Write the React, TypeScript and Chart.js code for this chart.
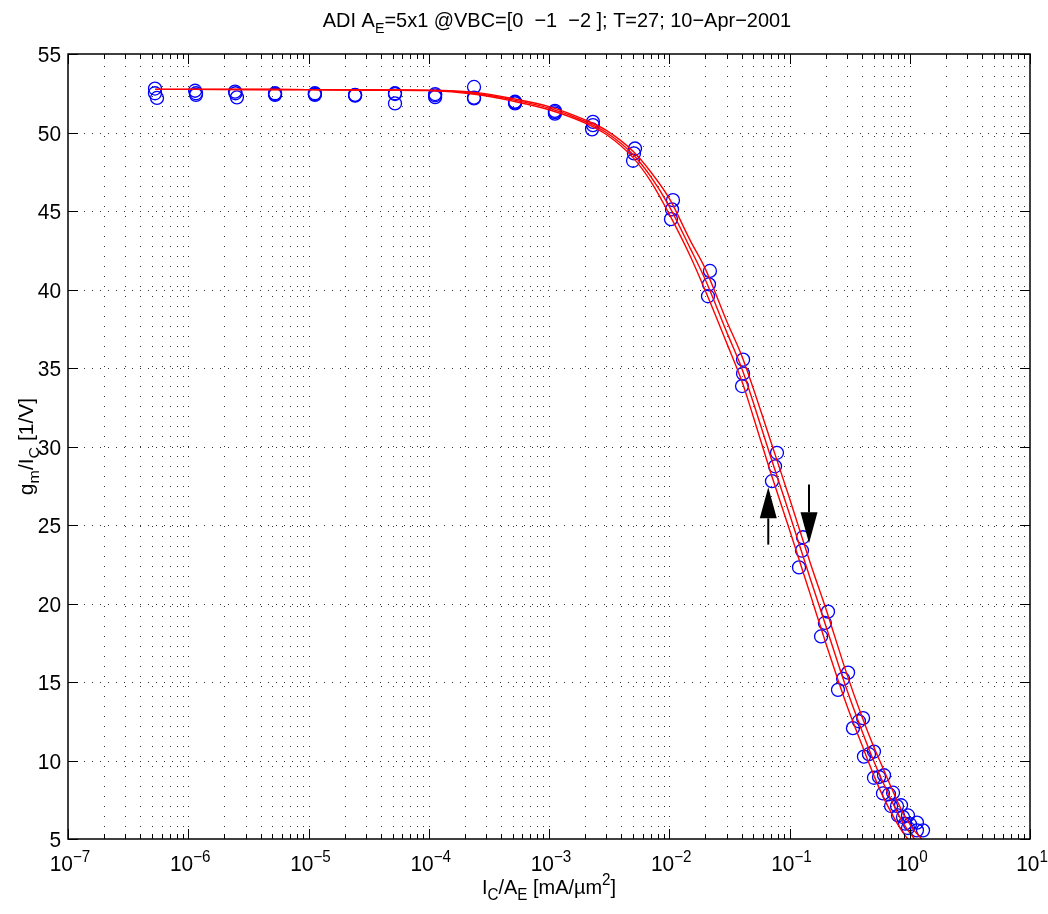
import React, { useEffect, useRef } from 'react';
import { Chart, registerables } from 'chart.js';

Chart.register(...registerables);

// ---- model curves (three VBC values) ----
const curveX = [5.3e-7, 1e-6, 1e-5, 1e-4, 2.5e-4, 5e-4, 1e-3, 2e-3, 3e-3, 5e-3, 7e-3, 1e-2, 1.5e-2, 2e-2, 3e-2, 4e-2, 5e-2, 7e-2, 0.1, 0.15, 0.2, 0.3, 0.4, 0.5, 0.6, 0.7, 0.8, 0.9, 1.0, 1.1, 1.26];
const curveL = [52.75, 52.75, 52.73, 52.67, 52.42, 52.0, 51.45, 50.6, 49.87, 48.4, 46.9, 44.8, 42.1, 39.9, 36.6, 34.2, 31.9, 28.3, 24.7, 20.5, 17.5, 13.5, 11.0, 9.1, 7.7, 6.7, 5.9, 5.3, 4.85, null, null];
const curveM = [52.75, 52.75, 52.73, 52.68, 52.48, 52.08, 51.55, 50.7, 50.0, 48.6, 47.2, 45.3, 42.6, 40.6, 37.3, 35.0, 32.8, 29.3, 25.7, 21.5, 18.6, 14.5, 11.9, 10.0, 8.6, 7.5, 6.6, 5.9, 5.4, 5.0, null];
const curveR = [52.75, 52.75, 52.73, 52.69, 52.54, 52.16, 51.65, 50.8, 50.13, 48.8, 47.5, 45.8, 43.1, 41.3, 38.0, 35.8, 33.7, 30.3, 26.7, 22.5, 19.7, 15.5, 12.8, 10.9, 9.5, 8.3, 7.3, 6.5, 5.95, 5.5, 5.0];

// ---- measured points ----
const measRx = [5.29e-7, 1.14e-6, 2.45e-6, 5.27e-6, 1.13e-5, 2.44e-5, 5.24e-5, 1.13e-4, 2.38e-4, 5.22e-4, 1.12e-3, 2.32e-3, 5.19e-3, 1.074e-2, 2.18e-2, 4.11e-2, 7.87e-2, 0.1295, 0.209, 0.307, 0.409, 0.504, 0.611, 0.726, 0.846, 0.967, 1.148, 1.289];
const measRy = [52.8, 52.66, 52.6, 52.5, 52.5, 52.4, 52.5, 52.45, 52.9, 51.96, 51.38, 50.68, 48.98, 45.69, 41.18, 35.53, 29.6, 24.22, 19.48, 15.6, 12.7, 10.57, 9.06, 7.95, 7.15, 6.5, 6.04, 5.55];
const measMx = [5.29e-7, 1.16e-6, 2.47e-6, 5.27e-6, 1.13e-5, 2.44e-5, 5.24e-5, 1.13e-4, 2.38e-4, 5.22e-4, 1.12e-3, 2.32e-3, 5.09e-3, 1.054e-2, 2.14e-2, 4.11e-2, 7.58e-2, 0.127, 0.197, 0.279, 0.378, 0.458, 0.555, 0.672, 0.783, 0.879, 1.005, 1.148];
const measMy = [52.5, 52.5, 52.5, 52.45, 52.45, 52.38, 52.45, 52.37, 52.22, 51.92, 51.3, 50.47, 48.67, 45.1, 40.33, 34.64, 28.74, 23.37, 18.76, 15.2, 12.5, 10.4, 8.95, 7.85, 7.1, 6.4, 5.94, 5.55];
const measLx = [5.5e-7, 1.16e-6, 2.54e-6, 5.27e-6, 1.13e-5, 2.44e-5, 5.24e-5, 1.13e-4, 2.38e-4, 5.22e-4, 1.12e-3, 2.28e-3, 5.0e-3, 1.034e-2, 2.1e-2, 4.03e-2, 7.15e-2, 0.12, 0.183, 0.253, 0.337, 0.416, 0.504, 0.599, 0.699, 0.799, 0.913, 0.967];
const measLy = [52.2, 52.4, 52.24, 52.4, 52.4, 52.35, 51.85, 52.25, 52.17, 51.85, 51.2, 50.2, 48.2, 44.48, 39.57, 33.85, 27.79, 22.3, 17.9, 14.5, 12.06, 10.25, 8.9, 7.9, 7.1, 6.5, 5.98, 5.7];

// ---- arrows (data coordinates) ----
const arrowX = [0.0666, 0.1453];
const arrowFrom = [23.75, 27.58];
const arrowTo = [27.4, 23.83];

// ---- axes ----
const xMin = 1e-7;
const xMax = 10;
const yMin = 5;
const yMax = 55;
const xDecades = [1e-7, 1e-6, 1e-5, 1e-4, 1e-3, 1e-2, 1e-1, 1, 10];
const xExponents = ['\u22127', '\u22126', '\u22125', '\u22124', '\u22123', '\u22122', '\u22121', '0', '1'];
const xMinorMult = [2, 3, 4, 5, 6, 7, 8, 9];
const yTicks = [5, 10, 15, 20, 25, 30, 35, 40, 45, 50, 55];

const FONT = '"Liberation Sans", Arial, Helvetica, sans-serif';
const SX = 0.95;
const FS = 22;
const FSS = 16;

type Part = { t: string; k?: 'sub' | 'sup' };

function drawRich(
  ctx: CanvasRenderingContext2D,
  parts: Part[],
  x: number,
  y: number,
  align: 'left' | 'center' | 'right',
  size: number,
  small: number,
  rotate = false
) {
  ctx.save();
  ctx.translate(x, y);
  if (rotate) {
    ctx.rotate(-Math.PI / 2);
    ctx.scale(1, SX);
  } else {
    ctx.scale(SX, 1);
  }
  let total = 0;
  const widths: number[] = [];
  for (const p of parts) {
    ctx.font = `${p.k ? small : size}px ${FONT}`;
    const w = ctx.measureText(p.t).width;
    widths.push(w);
    total += w;
  }
  let cx = align === 'center' ? -total / 2 : align === 'right' ? -total : 0;
  ctx.fillStyle = '#000';
  ctx.textBaseline = 'alphabetic';
  ctx.textAlign = 'left';
  parts.forEach((p, i) => {
    ctx.font = `${p.k ? small : size}px ${FONT}`;
    const dy = p.k === 'sub' ? size * 0.3 : p.k === 'sup' ? -size * 0.42 : 0;
    ctx.fillText(p.t, cx, dy);
    cx += widths[i];
  });
  ctx.restore();
}

const matlabPlugin = {
  id: 'matlabAxes',
  beforeDraw(chart: any) {
    const ctx = chart.ctx as CanvasRenderingContext2D;
    ctx.save();
    ctx.fillStyle = '#fff';
    ctx.fillRect(0, 0, chart.width, chart.height);
    ctx.restore();
  },
  beforeDatasetsDraw(chart: any) {
    const ctx = chart.ctx as CanvasRenderingContext2D;
    const { left, right, top, bottom } = chart.chartArea;
    const xs = chart.scales.x;
    const ys = chart.scales.y;
    ctx.save();
    ctx.strokeStyle = 'rgba(0,0,0,0.8)';
    ctx.lineWidth = 1;
    ctx.setLineDash([1, 9]);
    const xs2: number[] = [];
    xDecades.forEach((d) => {
      xs2.push(d);
      xMinorMult.forEach((m) => xs2.push(d * m));
    });
    xs2.forEach((v) => {
      if (v <= xMin || v >= xMax) return;
      const px = Math.round(xs.getPixelForValue(v)) + 0.5;
      ctx.beginPath();
      ctx.moveTo(px, top + 2);
      ctx.lineTo(px, bottom);
      ctx.stroke();
    });
    ctx.setLineDash([1, 7]);
    yTicks.forEach((v) => {
      if (v <= yMin || v >= yMax) return;
      const py = Math.round(ys.getPixelForValue(v)) + 0.5;
      ctx.beginPath();
      ctx.moveTo(left, py);
      ctx.lineTo(right, py);
      ctx.stroke();
    });
    ctx.restore();
  },
  afterDatasetsDraw(chart: any) {
    const ctx = chart.ctx as CanvasRenderingContext2D;
    const { left, right, top, bottom } = chart.chartArea;
    const xs = chart.scales.x;
    const ys = chart.scales.y;

    // arrows
    ctx.save();
    ctx.fillStyle = '#000';
    ctx.strokeStyle = '#000';
    arrowX.forEach((ax, i) => {
      const px = xs.getPixelForValue(ax);
      const p0 = ys.getPixelForValue(arrowFrom[i]);
      const p1 = ys.getPixelForValue(arrowTo[i]);
      const dir = p1 < p0 ? -1 : 1;
      const headLen = 31;
      const headW = 8.5;
      ctx.lineWidth = 2;
      ctx.beginPath();
      ctx.moveTo(px, p0);
      ctx.lineTo(px, p1 - dir * headLen);
      ctx.stroke();
      ctx.beginPath();
      ctx.moveTo(px, p1);
      ctx.lineTo(px - headW, p1 - dir * headLen);
      ctx.lineTo(px + headW, p1 - dir * headLen);
      ctx.closePath();
      ctx.fill();
    });
    ctx.restore();

    // box and ticks
    ctx.save();
    ctx.strokeStyle = '#000';
    ctx.lineWidth = 1.5;
    ctx.strokeRect(left, top, right - left, bottom - top);
    ctx.lineWidth = 1;
    ctx.beginPath();
    xDecades.forEach((d) => {
      const px = Math.round(xs.getPixelForValue(d)) + 0.5;
      ctx.moveTo(px, bottom);
      ctx.lineTo(px, bottom - 10);
      ctx.moveTo(px, top);
      ctx.lineTo(px, top + 10);
      xMinorMult.forEach((m) => {
        const v = d * m;
        if (v >= xMax) return;
        const qx = Math.round(xs.getPixelForValue(v)) + 0.5;
        ctx.moveTo(qx, bottom);
        ctx.lineTo(qx, bottom - 5);
        ctx.moveTo(qx, top);
        ctx.lineTo(qx, top + 5);
      });
    });
    yTicks.forEach((v) => {
      const py = Math.round(ys.getPixelForValue(v)) + 0.5;
      ctx.moveTo(left, py);
      ctx.lineTo(left + 10, py);
      ctx.moveTo(right, py);
      ctx.lineTo(right - 10, py);
    });
    ctx.stroke();
    ctx.restore();

    // tick labels
    yTicks.forEach((v) => {
      const py = ys.getPixelForValue(v);
      drawRich(ctx, [{ t: String(v) }], left - 7, py + 8, 'right', FS, FSS);
    });
    xDecades.forEach((d, i) => {
      const px = xs.getPixelForValue(d);
      drawRich(ctx, [{ t: '10' }, { t: xExponents[i], k: 'sup' }], px + 2, bottom + 32, 'center', FS, FSS);
    });

    // title
    drawRich(
      ctx,
      [{ t: 'ADI A' }, { t: 'E', k: 'sub' }, { t: '=5x1 @VBC=[0  \u22121  \u22122 ]; T=27; 10\u2212Apr\u22122001' }],
      (left + right) / 2 + 8,
      27,
      'center',
      FS - 1,
      FSS - 1
    );
    // x label
    drawRich(
      ctx,
      [{ t: 'I' }, { t: 'C', k: 'sub' }, { t: '/A' }, { t: 'E', k: 'sub' }, { t: ' [mA/\u00b5m' }, { t: '2', k: 'sup' }, { t: ']' }],
      (left + right) / 2,
      bottom + 55,
      'center',
      FS - 1,
      FSS
    );
    // y label
    drawRich(
      ctx,
      [{ t: 'g' }, { t: 'm', k: 'sub' }, { t: '/I' }, { t: 'C', k: 'sub' }, { t: ' [1/V]' }],
      left - 35,
      (top + bottom) / 2,
      'center',
      FS - 1,
      FSS,
      true
    );
  },
};

export default function App() {
  const ref = useRef<HTMLCanvasElement | null>(null);
  useEffect(() => {
    if (!ref.current) return;
    const mk = (xa: number[], ya: (number | null)[]) => xa.map((x, i) => ({ x, y: ya[i] }));
    const lineDs = (ya: (number | null)[]) => ({
      data: mk(curveX, ya),
      showLine: true,
      borderColor: '#ff0000',
      borderWidth: 1.4,
      pointRadius: 0,
      cubicInterpolationMode: 'monotone' as const,
      order: 0,
    });
    const ptDs = (xa: number[], ya: number[]) => ({
      data: mk(xa, ya),
      showLine: false,
      borderColor: '#0000ff',
      backgroundColor: 'rgba(0,0,0,0)',
      borderWidth: 1.3,
      pointRadius: 6.5,
      pointStyle: 'circle',
      order: 1,
    });
    const chart = new Chart(ref.current, {
      type: 'scatter',
      data: {
        datasets: [
          lineDs(curveL),
          lineDs(curveM),
          lineDs(curveR),
          ptDs(measRx, measRy),
          ptDs(measMx, measMy),
          ptDs(measLx, measLy),
        ] as any,
      },
      options: {
        animation: false,
        responsive: false,
        maintainAspectRatio: false,
        events: [],
        layout: { padding: { left: 68, right: 18, top: 54, bottom: 75 } },
        plugins: { legend: { display: false }, tooltip: { enabled: false }, title: { display: false } },
        scales: {
          x: { type: 'logarithmic', min: xMin, max: xMax, display: false },
          y: { type: 'linear', min: yMin, max: yMax, display: false },
        },
      },
      plugins: [matlabPlugin],
    });
    return () => chart.destroy();
  }, []);
  return (
    <div style={{ position: 'absolute', left: 0, top: 0, width: 1048, height: 914, background: '#fff' }}>
      <canvas ref={ref} width={1048} height={914} style={{ display: 'block', width: 1048, height: 914 }} />
    </div>
  );
}
